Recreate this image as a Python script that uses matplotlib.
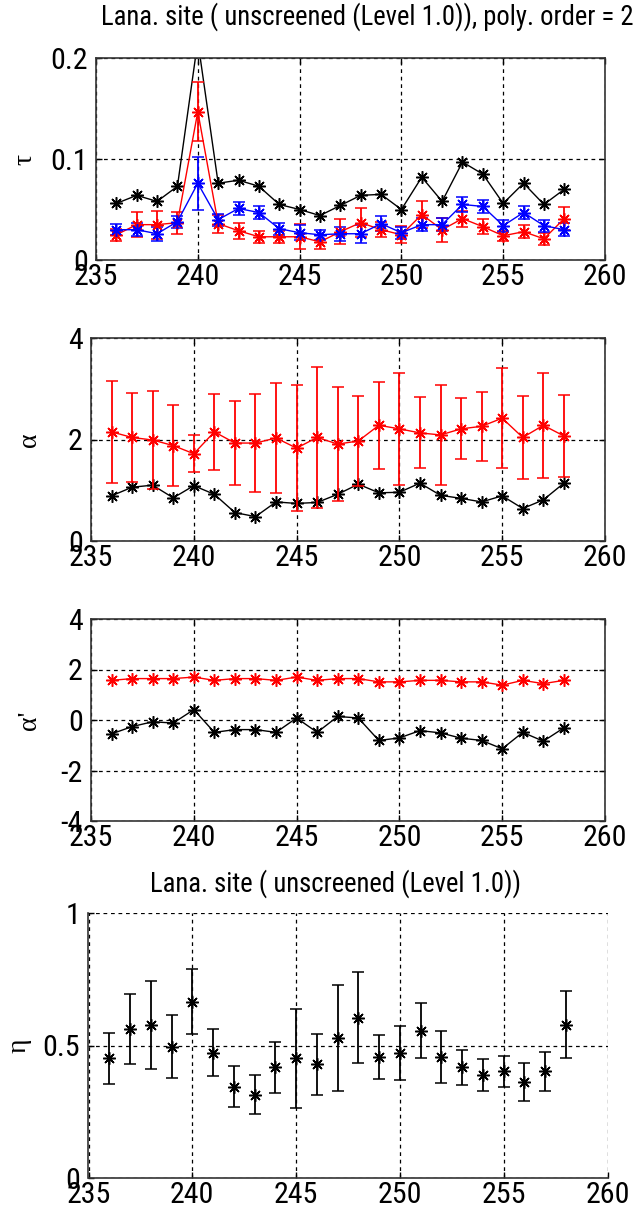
import matplotlib
matplotlib.use('Agg')
import matplotlib.pyplot as plt
from matplotlib import font_manager
from matplotlib.font_manager import FontProperties

# ---------------- data ----------------
days = list(range(236, 259))

tau_black = [0.056, 0.064, 0.058, 0.073, 0.217, 0.076, 0.079, 0.073, 0.055, 0.050, 0.044, 0.054,
             0.064, 0.065, 0.050, 0.082, 0.058, 0.097, 0.085, 0.056, 0.076, 0.055, 0.070]
tau_red = [0.025, 0.035, 0.035, 0.037, 0.147, 0.036, 0.029, 0.023, 0.023, 0.023, 0.018, 0.028,
           0.037, 0.030, 0.025, 0.045, 0.030, 0.041, 0.033, 0.024, 0.028, 0.021, 0.041]
tau_red_err = [0.006, 0.0125, 0.014, 0.011, 0.029, 0.009, 0.008, 0.006, 0.006, 0.0125, 0.007, 0.0125,
               0.0145, 0.0075, 0.0085, 0.013, 0.012, 0.008, 0.0075, 0.005, 0.0065, 0.006, 0.0115]
tau_blue = [0.030, 0.030, 0.026, 0.038, 0.076, 0.040, 0.051, 0.047, 0.031, 0.027, 0.025, 0.026,
            0.026, 0.036, 0.027, 0.035, 0.035, 0.055, 0.053, 0.034, 0.047, 0.034, 0.030]
tau_blue_err = [0.0055, 0.0067, 0.0067, 0.006, 0.026, 0.006, 0.0066, 0.0066, 0.006, 0.0075, 0.005, 0.0067,
                0.0087, 0.0075, 0.006, 0.0067, 0.0067, 0.0075, 0.0063, 0.006, 0.0067, 0.006, 0.0067]

alpha_red = [2.15, 2.04, 1.99, 1.88, 1.72, 2.15, 1.93, 1.93, 2.03, 1.83, 2.04, 1.91,
             1.97, 2.28, 2.21, 2.13, 2.09, 2.21, 2.26, 2.42, 2.04, 2.28, 2.07]
alpha_red_err = [1.00, 0.88, 0.97, 0.80, 0.36, 0.75, 0.83, 0.97, 1.08, 1.24, 1.38, 1.13,
                 0.88, 0.86, 1.11, 0.70, 0.99, 0.60, 0.68, 0.98, 0.82, 1.04, 0.80]
alpha_black = [0.89, 1.06, 1.10, 0.85, 1.09, 0.92, 0.56, 0.48, 0.77, 0.74, 0.76, 0.92,
               1.12, 0.95, 0.96, 1.14, 0.90, 0.84, 0.77, 0.89, 0.64, 0.81, 1.14]

alphap_red = [1.57, 1.64, 1.64, 1.64, 1.70, 1.57, 1.64, 1.64, 1.57, 1.70, 1.57, 1.64,
              1.64, 1.51, 1.51, 1.57, 1.57, 1.51, 1.51, 1.38, 1.57, 1.44, 1.57]
alphap_black = [-0.55, -0.26, -0.07, -0.12, 0.41, -0.49, -0.38, -0.38, -0.49, 0.08, -0.49, 0.14,
                0.08, -0.81, -0.71, -0.42, -0.51, -0.72, -0.81, -1.14, -0.49, -0.84, -0.31]

eta = [0.451, 0.562, 0.578, 0.496, 0.666, 0.473, 0.345, 0.314, 0.418, 0.451, 0.430, 0.530,
       0.605, 0.456, 0.473, 0.556, 0.456, 0.418, 0.389, 0.402, 0.362, 0.402, 0.578]
eta_err = [0.096, 0.131, 0.166, 0.118, 0.121, 0.088, 0.077, 0.074, 0.096, 0.187, 0.115, 0.200,
           0.171, 0.082, 0.102, 0.105, 0.099, 0.066, 0.061, 0.057, 0.071, 0.072, 0.127]

xticks = [235, 240, 245, 250, 255, 260]
xticklabels = ['235', '240', '245', '250', '255', '260']
title_top = 'Lana. site ( unscreened (Level 1.0)), poly. order = 2'
title_bottom = 'Lana. site ( unscreened (Level 1.0))'

# ---------------- font choice ----------------
def pick_condensed():
    prefs = ['liberationsansnarrow-regular', 'robotocondensed-regular', 'opensans_condensed',
             'opensans-condensed', 'dejavusanscondensed.ttf']
    files = [f.fname for f in font_manager.fontManager.ttflist]
    low = {fn.lower(): fn for fn in files}
    for p in prefs:
        for k, fn in low.items():
            if p in k.replace(' ', '') and 'bold' not in k and 'italic' not in k and 'oblique' not in k:
                return FontProperties(fname=fn)
    return FontProperties(family='Liberation Sans')

SANS_FP = pick_condensed()
SERIF = 'Liberation Serif'

# ---------------- figure ----------------
W, H = 642, 1216
fig = plt.figure(figsize=(W / 100, H / 100), dpi=100)
renderer = fig.canvas.get_renderer()

def fit_size(text, target_px):
    t = fig.text(0, 0, text, fontproperties=SANS_FP, fontsize=10)
    w = t.get_window_extent(renderer).width
    t.remove()
    return 10 * target_px / w

TICKFS = min(fit_size('235', 44), 22)
TITLEFS = fit_size(title_top, 528)

def px_axes(x0, x1, y0, y1):
    return fig.add_axes([x0 / W, 1 - y1 / H, (x1 - x0) / W, (y1 - y0) / H])

STAR = (8, 2, 0)

def style(ax, yticks, ylabels, ylab, labx, box=True):
    ax.set_xlim(235, 260)
    ax.set_xticks(xticks)
    ax.set_xticklabels(xticklabels, fontproperties=SANS_FP, fontsize=TICKFS)
    ax.set_yticks(yticks)
    ax.set_yticklabels(ylabels, fontproperties=SANS_FP, fontsize=TICKFS)
    ax.set_ylim(yticks[0], yticks[-1])
    ax.grid(True, color='k', linestyle=(0, (3, 3)), linewidth=0.9)
    ax.set_axisbelow(True)
    for s in ax.spines.values():
        s.set_linewidth(1.2)
        s.set_color('0.2')
    if box:
        ax.tick_params(direction='in', length=4, width=1, top=True, right=True, pad=2)
    else:
        ax.spines['top'].set_visible(False)
        ax.spines['right'].set_visible(False)
        ax.tick_params(direction='in', length=4, width=1, pad=2)
    ax.tick_params(axis='y', pad=6)
    ax.set_ylabel(ylab, fontfamily=SERIF, fontsize=20, rotation=90)
    ax.yaxis.set_label_coords(labx, 0.5)

def series(ax, y, color, err=None, line=True):
    if err is not None:
        ax.errorbar(days, y, yerr=err, color=color, linestyle='-' if line else 'none',
                    linewidth=1.0, elinewidth=1.3, capsize=4, capthick=1.3,
                    marker=STAR, markersize=9, markeredgewidth=1.1)
    else:
        ax.plot(days, y, color=color, linestyle='-', linewidth=1.0,
                marker=STAR, markersize=9, markeredgewidth=1.1)
    ax.plot(days, y, color=color, linestyle='none', marker='o', markersize=3)

# panel 1 : tau
ax1 = px_axes(96, 605, 58, 260)
series(ax1, tau_black, 'k')
series(ax1, tau_red, 'r', tau_red_err)
series(ax1, tau_blue, 'b', tau_blue_err)
style(ax1, [0, 0.1, 0.2], ['0', '0.1', '0.2'], 'τ', -0.115)

# panel 2 : alpha
ax2 = px_axes(91, 605, 338, 541)
series(ax2, alpha_black, 'k')
series(ax2, alpha_red, 'r', alpha_red_err)
style(ax2, [0, 2, 4], ['0', '2', '4'], 'α', -0.095)

# panel 3 : alpha'
ax3 = px_axes(91, 605, 619, 821)
series(ax3, alphap_black, 'k')
series(ax3, alphap_red, 'r')
style(ax3, [-4, -2, 0, 2, 4], ['-4', '-2', '0', '2', '4'], "α'", -0.095)

# panel 4 : eta
ax4 = px_axes(88.5, 607.5, 913, 1178)
series(ax4, eta, 'k', eta_err, line=False)
style(ax4, [0, 0.5, 1], ['0', '0.5', '1'], 'η', -0.11, box=False)

fig.text(367 / W, 1 - 17 / H, title_top, ha='center', va='center',
         fontproperties=SANS_FP, fontsize=TITLEFS)
fig.text(336 / W, 1 - 884 / H, title_bottom, ha='center', va='center',
         fontproperties=SANS_FP, fontsize=TITLEFS)

fig.savefig('out.png', dpi=100)
